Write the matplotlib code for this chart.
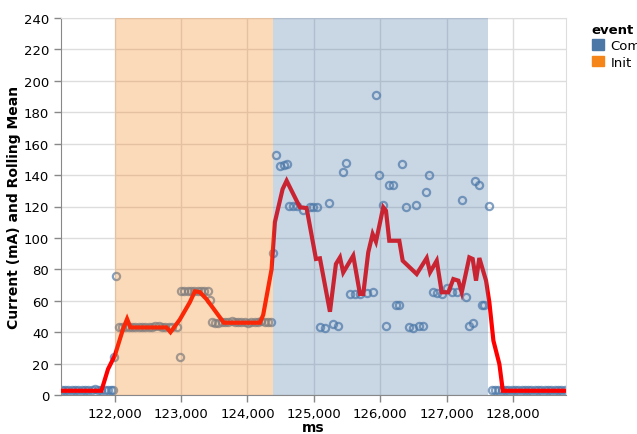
"""
Current draw per phase with rolling mean and event spans.
"""
import matplotlib
matplotlib.use("Agg")
import matplotlib.pyplot as plt
from matplotlib.patches import Patch
from matplotlib.ticker import FuncFormatter

# raw current samples (ms, mA)
sample_ms = [
    121200, 121250, 121300, 121350, 121400, 121450, 121500, 121550, 121600,
    121650, 121700, 121750, 121800, 121850, 121900, 121950, 121980,
    121990, 122025,
    122060, 122110, 122160, 122210, 122260, 122310, 122360, 122410, 122460,
    122510, 122560, 122610, 122660, 122710, 122760, 122810, 122860, 122940,
    122980,
    123000, 123050, 123100, 123150, 123200, 123250, 123300, 123350, 123400,
    123440,
    123460, 123510, 123560, 123610, 123660, 123710, 123760, 123810, 123860,
    123910, 123960, 124010, 124060, 124110, 124160, 124210, 124260, 124310,
    124360,
    124378, 124428, 124489, 124549, 124590, 124629, 124689, 124750, 124831,
    124941, 124991, 125042, 125092, 125167, 125232, 125283, 125368, 125434,
    125484, 125544, 125620, 125695, 125796, 125886, 125936, 125986, 126037,
    126087, 126137, 126188, 126238, 126288, 126329, 126389, 126439, 126490,
    126540, 126590, 126641, 126691, 126740, 126791, 126851, 126927, 127002,
    127078, 127153, 127237, 127289, 127343, 127394, 127429, 127494, 127530,
    127565, 127640,
    127680, 127730, 127780, 127830, 127880, 127930, 127980, 128030, 128080,
    128130, 128180, 128230, 128280, 128330, 128380, 128430, 128480, 128530,
    128580, 128630, 128680, 128730, 128780,
]
sample_ma = [
    3.5, 3.5, 3.4, 3.5, 3.5, 3.4, 3.5, 3.5, 3.4,
    3.5, 3.6, 3.5, 3.5, 3.4, 3.2, 3.0, 3.2,
    24, 76,
    43.5, 43.5, 43.2, 43.5, 43.0, 43.2, 43.5, 43.0, 43.2,
    43.5, 43.5, 43.8, 44.0, 43.5, 43.5, 43.2, 43.5, 43.2,
    24.5,
    66, 66, 66, 66, 66.5, 66, 66, 66, 66,
    60.5,
    46.5, 46, 46, 46.2, 46.5, 46.5, 46.8, 46.5, 46.5,
    46.2, 46.5, 46, 46.2, 46.5, 46.5, 46.8, 46.5, 46.5,
    46.5,
    90.4, 152.8, 145.6, 146.4, 147, 120.5, 120.5, 120.5, 117.8,
    119.5, 119.5, 119.5, 43, 42.4, 122.2, 45, 43.7, 142,
    148, 64.3, 64.3, 64.3, 65, 65.8, 191, 140.2, 121,
    43.7, 134, 134, 57.3, 57.3, 146.8, 120, 43, 42.4,
    121, 43.7, 43.7, 129, 140.2, 65.4, 64.7, 64.3, 68,
    65.4, 65.4, 124.1, 62.6, 44.1, 45.8, 136.4, 133.7, 57.5,
    57.5, 120.1,
    3.2, 3.0, 3.2, 3.0, 3.2, 3.0, 3.2, 3.0, 3.2,
    3.0, 3.2, 3.3, 3.0, 3.2, 3.0, 3.2, 3.4, 3.0,
    3.2, 3.0, 3.2, 3.2, 3.0,
]

# rolling mean vertices (ms, mA)
roll_ms = [
    121196, 121799, 121899, 122000, 122125, 122186, 122237, 122780, 122840,
    122980, 123131, 123207, 123282, 123383, 123644, 124187, 124237, 124363,
    124413, 124529, 124590, 124689, 124790, 124891, 125032, 125092, 125243,
    125333, 125394, 125443, 125594, 125695, 125745, 125820, 125886, 125936,
    126046, 126087, 126137, 126288, 126339, 126550, 126701, 126751, 126852,
    126927, 127027, 127102, 127178, 127229, 127343, 127394, 127444, 127494,
    127595, 127645, 127706, 127796, 127848, 128787,
]
roll_ma = [
    2.7, 2.7, 16.5, 25, 42, 48.4, 43, 43, 40,
    48, 59, 66, 65.5, 61, 46, 46, 51, 80,
    110, 131, 136.4, 128, 119.5, 119, 86.6, 87, 53,
    83.4, 87.6, 78, 88.7, 64.3, 64.3, 90.8, 102.5, 97.6,
    119.5, 117.3, 98.2, 98.2, 85.5, 77, 87.2, 78.1, 85.5,
    65.4, 65.4, 73.8, 72.8, 65.4, 87.6, 86.6, 72.8, 87.2,
    72.8, 59, 34.6, 19.7, 2.7, 2.7,
]

events = ["Com", "Init"]
event_colors = ["#4c78a8", "#f58518"]
event_start = [124391, 122000]
event_end = [127630, 124391]

fig = plt.figure(figsize=(6.37, 4.35), dpi=100)
ax = fig.add_axes([61 / 637, 39 / 435, 505 / 637, 377 / 435])

ax.plot(sample_ms, sample_ma, "o", ms=5.2, mfc="none", mec="#4c78a8",
        mew=1.6, alpha=0.7, zorder=2)
ax.plot(roll_ms, roll_ma, color="red", lw=3, solid_joinstyle="miter", zorder=3)
for s, e, c in zip(event_start, event_end, event_colors):
    ax.axvspan(s, e, color=c, alpha=0.3, lw=0, zorder=4)

ax.set_xlim(121190, 128800)
ax.set_ylim(0, 240)
ax.set_xticks([122000, 123000, 124000, 125000, 126000, 127000, 128000])
ax.set_yticks(range(0, 241, 20))
ax.xaxis.set_major_formatter(FuncFormatter(lambda v, p: f"{int(v):,}"))
ax.set_axisbelow(True)
ax.grid(True, color="#dddddd", lw=1)
ax.tick_params(labelsize=9.5, color="#888888", length=5, width=1)
for side in ["top", "right"]:
    ax.spines[side].set_color("#dddddd")
for side in ["left", "bottom"]:
    ax.spines[side].set_color("#888888")
ax.set_xlabel("ms", fontsize=10, fontweight="bold", labelpad=0)
ax.set_ylabel("Current (mA) and Rolling Mean", fontsize=10,
              fontweight="bold", labelpad=2)

handles = [Patch(color=c, label=l) for l, c in zip(events, event_colors)]
leg = fig.legend(handles=handles, title="event", loc="upper left",
                 bbox_to_anchor=(580 / 637, 1 - 12 / 435), frameon=False,
                 fontsize=9.5, title_fontsize=9.5, handlelength=0.9,
                 handleheight=0.9, handletextpad=0.5, labelspacing=0.25,
                 alignment="left")
leg.get_title().set_fontweight("bold")

fig.savefig("out.png", dpi=100)
plt.close(fig)
